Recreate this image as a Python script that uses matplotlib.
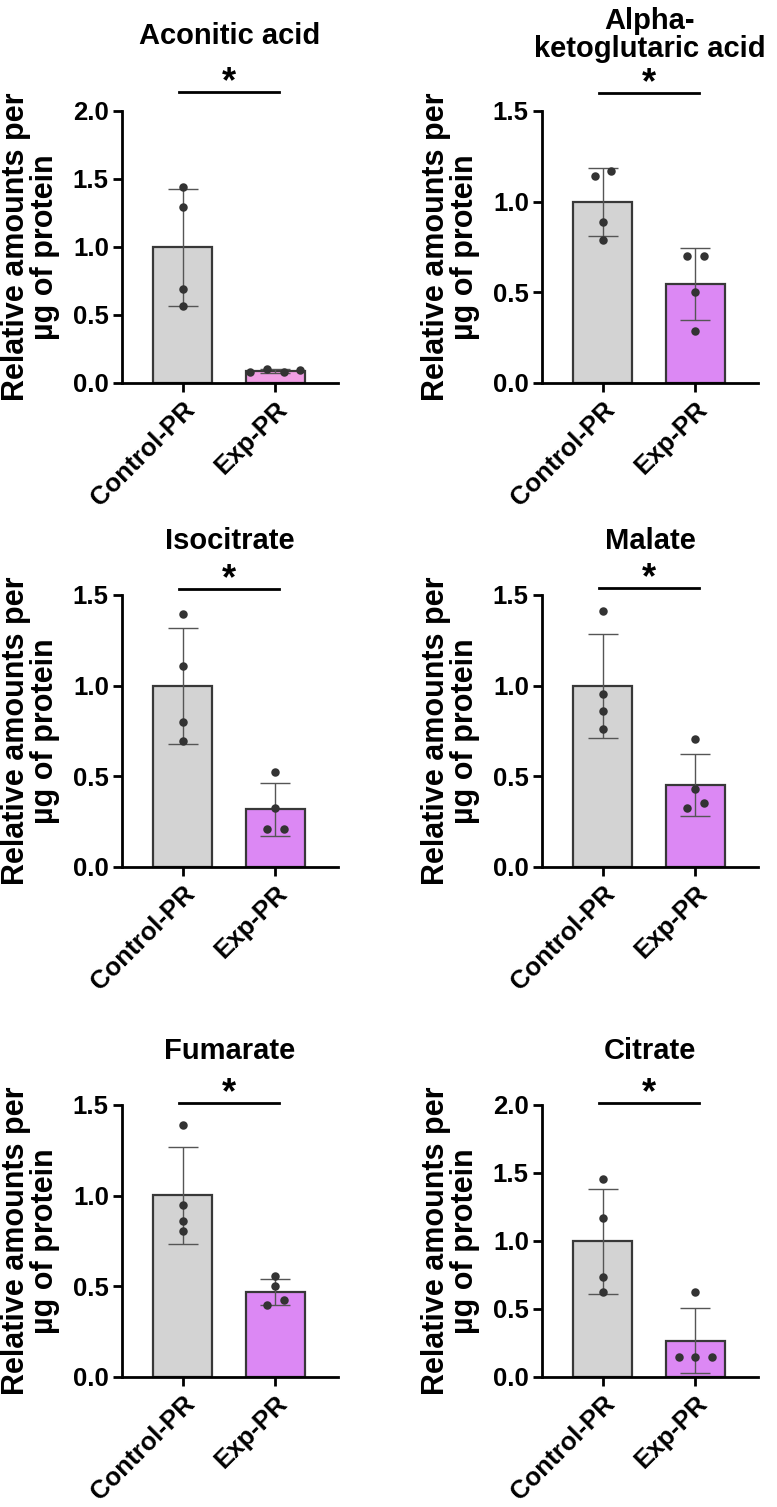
import numpy as np
import matplotlib
matplotlib.use("Agg")
import matplotlib.pyplot as plt

plt.rcParams['font.family'] = ['Liberation Sans', 'DejaVu Sans']
plt.rcParams['font.weight'] = 'bold'

# values (4 replicates per group)
titles = ['Aconitic acid', 'Alpha-\nketoglutaric acid', 'Isocitrate',
          'Malate', 'Fumarate', 'Citrate']
groups = ['Control-PR', 'Exp-PR']
control_pts = [
    [1.437, 1.293, 0.690, 0.568],
    [1.140, 1.167, 0.887, 0.790],
    [1.395, 1.109, 0.797, 0.692],
    [1.410, 0.955, 0.859, 0.762],
    [1.390, 0.950, 0.858, 0.807],
    [1.459, 1.171, 0.732, 0.624],
]
exp_pts = [
    [0.078, 0.105, 0.078, 0.093],
    [0.699, 0.699, 0.501, 0.284],
    [0.521, 0.325, 0.211, 0.211],
    [0.703, 0.431, 0.325, 0.352],
    [0.557, 0.501, 0.398, 0.425],
    [0.624, 0.149, 0.149, 0.149],
]
y_max = [2.0, 1.5, 1.5, 1.5, 1.5, 2.0]
sig_y = [2.14, 1.60, 1.533, 1.54, 1.51, 2.015]
exp_colors = ['#f09ee4', '#dc88f4', '#dc88f4', '#dc88f4', '#dc88f4', '#dc88f4']
ctrl_color = '#d3d3d3'

# axes placement in figure fractions
lefts = [0.157, 0.6975]
bottoms = [0.7459, 0.4247, 0.0863]
ax_w, ax_h = 0.278, 0.1805
title_pad = [0.245, 0.20, 0.17, 0.17, 0.17, 0.17]

AX_PX = 272.0  # axes height in pixels


def swarm_offsets(vals, px_per_unit, step=0.18, thresh_px=7.0):
    vals = np.asarray(vals)
    order = np.argsort(vals, kind='stable')
    rows, cur = [], [order[0]]
    for a, b in zip(order[:-1], order[1:]):
        if (vals[b] - vals[a]) * px_per_unit < thresh_px:
            cur.append(b)
        else:
            rows.append(cur)
            cur = [b]
    rows.append(cur)
    off = np.zeros(len(vals))
    for r in rows:
        r = sorted(r)
        n = len(r)
        for i, idx in enumerate(r):
            off[idx] = (i - (n - 1) / 2) * step
    return off


fig = plt.figure(figsize=(7.77, 15.07), dpi=100)

for k in range(6):
    ax = fig.add_axes([lefts[k % 2], bottoms[k // 2], ax_w, ax_h])
    pts = [np.array(control_pts[k]), np.array(exp_pts[k])]
    means = [p.mean() for p in pts]
    sds = [p.std(ddof=1) for p in pts]
    xs = np.arange(2)

    ax.bar(xs, means, width=0.64, color=[ctrl_color, exp_colors[k]],
           edgecolor='#383838', linewidth=1.6, zorder=1)
    ax.errorbar(xs, means, yerr=sds, fmt='none', ecolor='#555555',
                elinewidth=1.0, capsize=11, capthick=1.0, zorder=2)
    ppu = AX_PX / y_max[k]
    for x, p in zip(xs, pts):
        off = swarm_offsets(p, ppu)
        ax.plot(x + off, p, 'o', color='#333333', markersize=6.1,
                markeredgewidth=0, zorder=3, clip_on=False)

    ax.set_xlim(-0.66, 1.68)
    ax.set_ylim(0, y_max[k])
    ticks = np.arange(0, y_max[k] + 0.01, 0.5)
    ax.set_yticks(ticks)
    ax.set_yticklabels([f'{v:.1f}' for v in ticks], fontsize=18.5,
                       fontweight='bold')
    ax.set_xticks(xs)
    ax.set_xticklabels(groups, rotation=45, ha='right', rotation_mode='anchor',
                       fontsize=18.5, fontweight='bold')
    ax.spines['top'].set_visible(False)
    ax.spines['right'].set_visible(False)
    for s in ['left', 'bottom']:
        ax.spines[s].set_linewidth(2.0)
    ax.tick_params(direction='out', length=6.5, width=2.0, pad=3)
    ax.tick_params(axis='x', pad=4)
    ax.set_ylabel('Relative amounts per\nµg of protein', fontsize=22,
                  fontweight='bold', linespacing=0.95, labelpad=9)

    # significance bar
    ax.plot([-0.04, 1.04], [sig_y[k], sig_y[k]], color='black', lw=2.0,
            clip_on=False)
    ax.annotate('*', xy=(0.5, sig_y[k]), xytext=(0, -6),
                textcoords='offset points', ha='center', va='bottom',
                fontsize=26, fontweight='bold', annotation_clip=False)

    ax.text(0.5, 1 + title_pad[k], titles[k], transform=ax.transAxes,
            ha='center', va='baseline', fontsize=21, fontweight='bold',
            linespacing=1.0)

fig.savefig('out.png', dpi=100)
